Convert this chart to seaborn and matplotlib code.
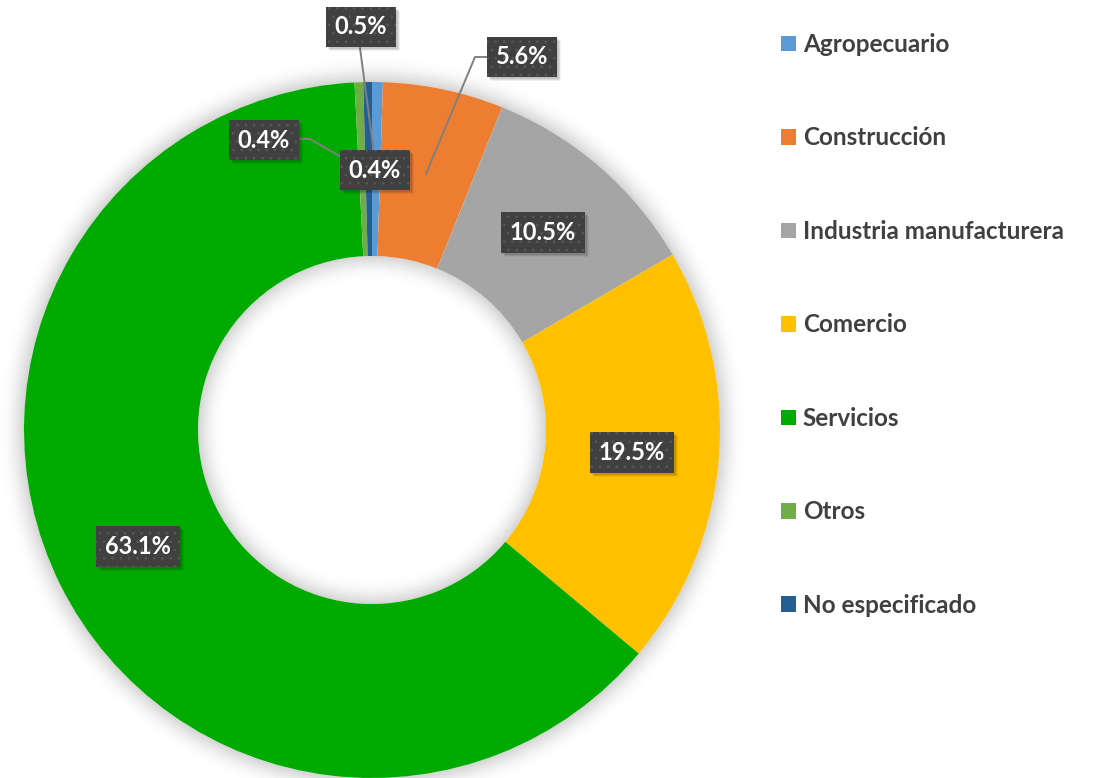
import matplotlib
matplotlib.use("Agg")
import matplotlib.pyplot as plt
from matplotlib.patches import Wedge, Rectangle
import numpy as np
import seaborn as sns

# data
sectors = ["Agropecuario", "Construcción", "Industria manufacturera",
           "Comercio", "Servicios", "Otros", "No especificado"]
shares = [0.5, 5.6, 10.5, 19.5, 63.1, 0.4, 0.4]
labels = ["0.5%", "5.6%", "10.5%", "19.5%", "63.1%", "0.4%", "0.4%"]
colors = ["#5B9BD5", "#ED7D31", "#A5A5A5", "#FFC000", "#00AA00", "#70AD47", "#255E91"]

# layout (pixels)
W, H = 1097, 778
CX, CY, R = 372, 430, 348
# label boxes moved off the ring: (box centre px, leader side)
moved = {
    0: ((361, 27), "down"),
    1: ((522, 57), "left"),
    5: ((264, 140), "right"),
    6: ((375, 170), None),
}

sns.set_theme(style="white")
plt.rcParams["font.family"] = ["Lato", "DejaVu Sans"]
plt.rcParams["hatch.color"] = "#575757"
plt.rcParams["hatch.linewidth"] = 0.7


def px(x, y):
    return (x - CX) / R, (CY - y) / R


fig = plt.figure(figsize=(W / 100, H / 100), dpi=100)
ax = fig.add_axes([0, 0, 1, 1])

# soft glow around the ring
n = 14
d = 0.075 / n
for i in range(n):
    a = 0.16 * (1 - i / n) ** 2
    ax.add_patch(Wedge((0, 0), 1 + (i + 1) * d, 0, 360, width=d,
                       facecolor="black", alpha=a, linewidth=0, zorder=0))
    ax.add_patch(Wedge((0, 0), 0.5 - i * d, 0, 360, width=d,
                       facecolor="black", alpha=a, linewidth=0, zorder=0))

wedges, _ = ax.pie(shares, colors=colors, startangle=90, counterclock=False,
                   radius=1, wedgeprops=dict(width=0.5, linewidth=0))
for w in wedges:
    w.set_zorder(2)

ax.set_xlim(-CX / R, (W - CX) / R)
ax.set_ylim((CY - H) / R, CY / R)
ax.set_aspect("auto")
ax.axis("off")

cum = np.cumsum([0] + shares[:-1])
total = sum(shares)
texts = []
for i, (lab, s) in enumerate(zip(labels, shares)):
    mid = (cum[i] + s / 2) / total * 2 * np.pi
    ax0, ay0 = 0.75 * np.sin(mid), 0.75 * np.cos(mid)
    if i in moved:
        (bx, by), side = moved[i]
        tx, ty = px(bx, by)
        if side == "down":
            sx, sy = px(bx - 1, by + 21)
            ax.plot([sx, ax0], [sy, ay0], color="#808080", lw=1.4, zorder=3)
        elif side == "left":
            sx, sy = px(bx - 35, by)
            ex, ey = px(bx - 47, by)
            ax.plot([sx, ex, ax0], [sy, ey, ay0], color="#808080", lw=1.4, zorder=3)
        elif side == "right":
            sx, sy = px(bx + 36, by - 1)
            ex, ey = px(bx + 46, by - 1)
            ax.plot([sx, ex, ax0], [sy, ey, ay0], color="#808080", lw=1.4, zorder=3)
    else:
        tx, ty = ax0, ay0
    t = ax.text(tx, ty, lab, ha="center", va="center", color="white",
                fontsize=17, fontweight="bold", zorder=5,
                bbox=dict(boxstyle="square,pad=0.38", facecolor="#404040",
                          edgecolor="#575757", hatch="..", linewidth=0))
    texts.append(t)

leg = ax.legend(wedges, sectors, loc="upper left",
                bbox_to_anchor=(781 / W, 1 - 33 / H), frameon=False,
                prop=dict(size=17.5, weight="bold"), labelcolor="#404040",
                handlelength=0.62, handleheight=0.62, handletextpad=0.28,
                labelspacing=2.9, borderpad=0, borderaxespad=0)

# drop shadow behind each label box (soft, offset down-right)
fig.canvas.draw()
inv = ax.transData.inverted()
for t in texts:
    bb = t.get_bbox_patch().get_window_extent()
    for k, a in enumerate([0.10, 0.08, 0.06]):
        off = 2 + k
        (x0, y0), (x1, y1) = inv.transform([(bb.x0 + off, bb.y0 - off),
                                            (bb.x1 + off, bb.y1 - off)])
        ax.add_patch(Rectangle((x0, y0), x1 - x0, y1 - y0, facecolor="black",
                               alpha=a, linewidth=0, zorder=4))

fig.savefig("out.png", dpi=100)
